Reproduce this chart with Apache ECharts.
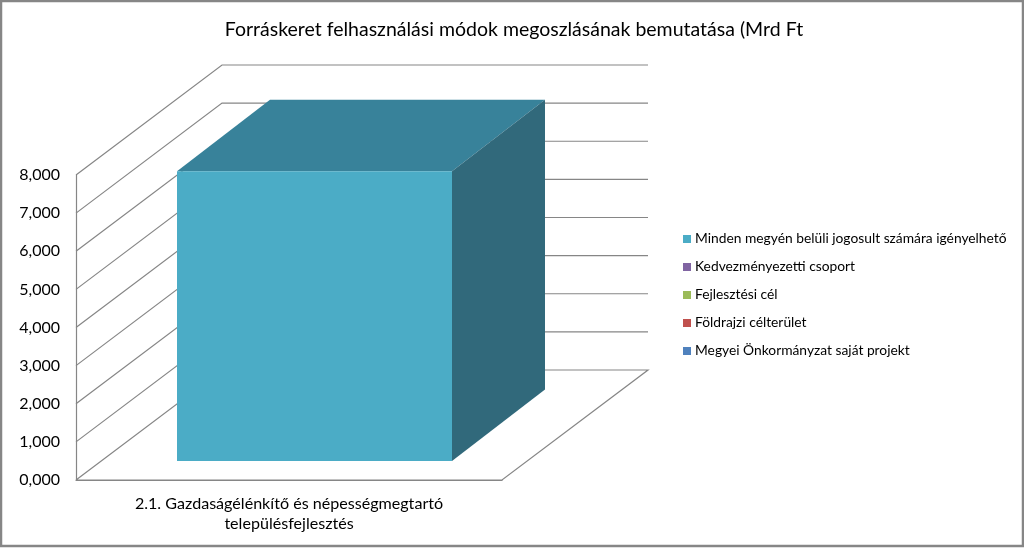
<!DOCTYPE html>
<html><head><meta charset="utf-8">
<style>html,body{margin:0;padding:0;background:#fff}#c{width:1024px;height:548px}</style>
<script src="https://cdn.jsdelivr.net/npm/echarts@6/dist/echarts.min.js"></script>
</head><body><div id="c"></div>
<script>
const titleText = 'Forráskeret felhasználási módok megoszlásának bemutatása (Mrd Ft';
const categories = ['2.1. Gazdaságélénkítő és népességmegtartó\ntelepülésfejlesztés'];
const yTicks = [0,1,2,3,4,5,6,7,8];
const seriesNames = ['Megyei Önkormányzat saját projekt','Földrajzi célterület','Fejlesztési cél','Kedvezményezetti csoport','Minden megyén belüli jogosult számára igényelhető'];
const seriesColors = ['#4F81BD','#C0504D','#9BBB59','#8064A2','#4BACC6'];
const seriesValues = [[0],[0],[0],[0],[7.6]];

const WALL_DX = 146, WALL_DY = -110;   // depth of the 3D room
const BOX_IN_X = 25.5, BOX_IN_Y = -19; // gap from room front to box front
const BOX_DX = 93, BOX_DY = -71.5;     // depth of box
const BOX_W = 275;
const LINE = '#868686';

function wallsItem(params, api) {
  const v = api.value(0);
  const p = api.coord([0, v]);
  const size = api.size([1, 0]);
  const x0 = p[0] - size[0] / 2, x1 = p[0] + size[0] / 2, y = p[1];
  const pts = v === 0
    ? [[x0, y],[x1, y],[x1 + WALL_DX, y + WALL_DY],[x0 + WALL_DX, y + WALL_DY],[x0, y]]
    : [[x0, y],[x0 + WALL_DX, y + WALL_DY],[x1 + WALL_DX, y + WALL_DY]];
  return {type:'polyline', shape:{points:pts}, style:{stroke:LINE, lineWidth:1.2, fill:null}, silent:true};
}
function boxItem(color, topC, sideC) {
  return function(params, api) {
    const v = api.value(1);
    if (!v) return null;
    const t = api.coord([api.value(0), v]);
    const b = api.coord([api.value(0), 0]);
    const l = t[0] - BOX_W / 2 + BOX_IN_X, r = l + BOX_W;
    const yt = t[1] + BOX_IN_Y, yb = b[1] + BOX_IN_Y;
    const poly = (points, fill) => ({type:'polygon', shape:{points}, style:{fill}});
    return {type:'group', children:[
      poly([[l,yt],[r,yt],[r+BOX_DX,yt+BOX_DY],[l+BOX_DX,yt+BOX_DY]], topC),
      poly([[r,yt],[r+BOX_DX,yt+BOX_DY],[r+BOX_DX,yb+BOX_DY],[r,yb]], sideC),
      poly([[l,yt],[r,yt],[r,yb],[l,yb]], color)
    ]};
  };
}
const series = [{
  type:'custom', name:'walls', coordinateSystem:'cartesian2d', clip:false, silent:true, z:1,
  encode:{y:0}, data:yTicks.map(v=>[v]), renderItem:wallsItem
}];
seriesNames.forEach((name,i)=>series.push({
  type:'custom', name, coordinateSystem:'cartesian2d', clip:false, z:2,
  itemStyle:{color:seriesColors[i]},
  encode:{x:0,y:1},
  data:seriesValues[i].map((v,k)=>[k,v]),
  renderItem:boxItem(seriesColors[i],'#38829A','#31697B')
}));

const chart = echarts.init(document.getElementById('c'));
chart.setOption({
  animation:false,
  backgroundColor:'#fff',
  textStyle:{fontFamily:'Lato'},
  title:{text:titleText,left:509,top:15,textAlign:'center',
    textStyle:{fontFamily:'Lato',fontSize:19.5,fontWeight:'normal',color:'#000'}},
  grid:{left:76,width:426,top:175,height:305},
  xAxis:{type:'category',data:categories,
    axisLine:{show:true,lineStyle:{color:LINE,width:1.2}},axisTick:{show:false},splitLine:{show:false},
    axisLabel:{fontSize:16.1,color:'#000',lineHeight:20,margin:14}},
  yAxis:{type:'value',min:0,max:8,interval:1,
    axisLine:{show:true,lineStyle:{color:LINE,width:1.2}},axisTick:{show:false},splitLine:{show:false},
    axisLabel:{fontSize:16,color:'#000',margin:16,padding:[4,0,0,0],formatter:v=>v.toFixed(3).replace('.',',')}},
  legend:{orient:'vertical',left:683,top:231,padding:0,itemWidth:8,itemHeight:8,itemGap:12,
    icon:'rect',data:seriesNames.slice().reverse(),
    textStyle:{fontSize:13.8,color:'#000',height:16,lineHeight:16,padding:[0,0,0,-1]}},
  graphic:[{type:'rect',silent:true,z:100,shape:{x:1,y:1,width:1022,height:545},
    style:{fill:null,stroke:'#868686',lineWidth:2.5}}],
  series
});
</script></body></html>
